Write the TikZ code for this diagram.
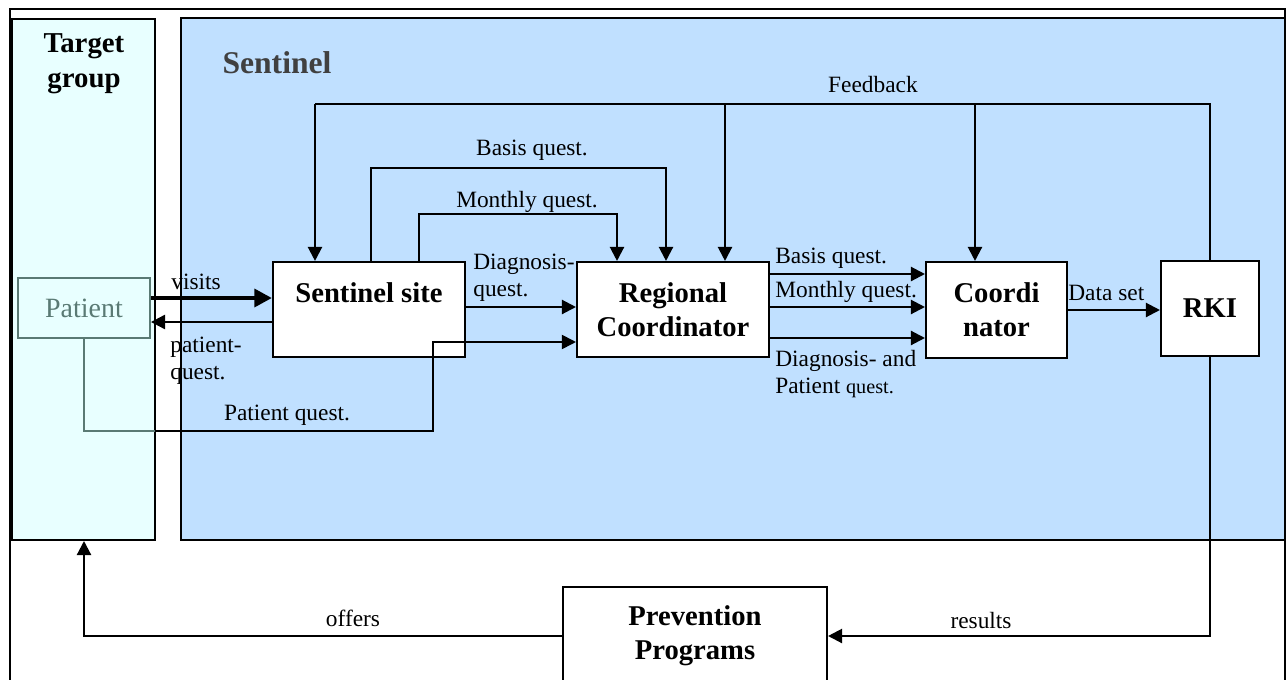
\documentclass[tikz,border=0pt]{standalone}
\usepackage{fontspec}
\setmainfont{Liberation Serif}
\usetikzlibrary{arrows.meta,positioning,calc}
\definecolor{skyfill}{RGB}{192,224,255}
\definecolor{cyanfill}{RGB}{232,255,255}
\definecolor{patgray}{RGB}{90,122,116}
\newcommand{\lblsize}{\fontsize{13.3}{15.5}\selectfont}
\newcommand{\boxsize}{\fontsize{16.3}{19.5}\selectfont\bfseries}

\tikzset{
  box/.style={draw,line width=1.2pt,fill=white,inner sep=0pt,font=\boxsize,align=center},
  area/.style={draw,line width=1.2pt,inner sep=0pt},
  lbl/.style={font=\lblsize,inner sep=0pt},
  arr/.style={line width=1.25pt,-{Triangle[length=8pt,width=8pt]}},
  link/.style={line width=1.25pt},
}

\begin{document}
\begin{tikzpicture}[x=0.02cm,y=-0.02cm]
  \useasboundingbox (0,0) rectangle (1287,679);
  \clip (0,0) rectangle (1287,679);
  \draw[line width=1.4pt] (10,9) rectangle (1285,720);

  % the two areas
  \node[area,fill=cyanfill,minimum width=2.86cm,minimum height=10.42cm] (tg) at (83.5,279.5) {};
  \node[area,fill=skyfill,minimum width=22.08cm,minimum height=10.44cm] (sen) at (733,279) {};
  \node[font=\fontsize{16.4}{20}\selectfont\bfseries,align=center] (tgtext) at (84,64) {Target\\group};
  \node[font=\fontsize{18}{20}\selectfont\bfseries,text=black!75] (sentext) at (277,63) {Sentinel};

  % boxes
  \node[draw=patgray,line width=1.1pt,inner sep=0pt,minimum width=2.64cm,minimum height=1.2cm,
    font=\fontsize{15.9}{18}\selectfont,text=patgray] (pat) at (84,308) {Patient};
  \node[box,minimum width=3.84cm,minimum height=1.9cm] (site) at (369,309.5) {};
  \node[font=\boxsize] at ([yshift=-0.63cm]site.north) {Sentinel site};
  \node[box,minimum width=3.84cm,minimum height=1.9cm] (rc) at (673,309.5) {Regional\\Coordinator};
  \node[box,minimum width=2.82cm,minimum height=1.92cm] (co) at (996.5,310) {Coordi\\nator};
  \node[box,minimum width=1.96cm,minimum height=1.9cm] (rki) at (1210,308.5) {RKI};
  \node[box,minimum width=5.28cm,minimum height=1.96cm] (pp) at (695,636) {Prevention\\Programs};

  % feedback
  \coordinate (fb1) at (315,104);
  \coordinate (fb2) at (725,104);
  \coordinate (fb3) at (975,104);
  \draw[link] (rki.north) |- (fb1);
  \draw[arr] (fb1) -- (fb1 |- site.north);
  \draw[arr] (fb2) -- (fb2 |- rc.north);
  \draw[arr] (fb3) -- (fb3 |- co.north);
  \node[lbl] at (873,85) {Feedback};

  % questionnaires site -> regional
  \coordinate (bq1) at (371,168);
  \coordinate (bq2) at (666,168);
  \coordinate (mq1) at (419,214);
  \coordinate (mq2) at (617,214);
  \draw[arr] (bq1 |- site.north) -- (bq1) -- (bq2) -- (bq2 |- rc.north);
  \draw[arr] (mq1 |- site.north) -- (mq1) -- (mq2) -- (mq2 |- rc.north);
  \node[lbl] at (532,150) {Basis quest.};
  \node[lbl] at (527,202) {Monthly quest.};
  \draw[arr] ([yshift=0.05cm]site.east) -- ([yshift=0.05cm]site.east -| rc.west);
  \node[lbl,anchor=west,align=left] at (473,278) {Diagnosis-\\quest.};

  % patient
  \draw[line width=2.8pt,-{Triangle[length=10pt,width=10pt]}] ([yshift=0.2cm]pat.east) -- ([yshift=0.2cm]pat.east -| site.west);
  \node[lbl] at (196,282) {visits};
  \draw[arr] ([yshift=-0.25cm]site.west) -- ([yshift=-0.25cm]site.west -| pat.east);
  \node[lbl,anchor=west,align=left] at (170,361) {patient-\\quest.};
  \coordinate (pqmid) at (155,431);
  \coordinate (pq) at (433,431);
  \coordinate (rcin) at ([yshift=-0.65cm]rc.west);
  \draw[patgray,line width=1pt] (pat.south) |- (pqmid);
  \draw[arr,line width=1pt] (pqmid) -- (pq) |- (rcin);
  \node[lbl] at (287,415) {Patient quest.};

  % regional -> coordinator -> RKI
  \foreach \dy in {0.71,0.05,-0.57}
    \draw[arr] ([yshift=\dy cm]rc.east) -- ([yshift=\dy cm]rc.east -| co.west);
  \node[lbl,anchor=west] at (775,258) {Basis quest.};
  \node[lbl,anchor=west] at (775,292) {Monthly quest.};
  \node[lbl,anchor=west,align=left] at (775,374) {Diagnosis- and\\Patient {\fontsize{11.5}{13}\selectfont quest.}};
  \draw[arr] (co.east) -- (co.east -| rki.west);
  \node[lbl,anchor=west] at (1068,293) {Data set};

  % results and offers
  \draw[arr] (rki.south) |- (pp.east);
  \node[lbl] at (981,620) {results};
  \draw[arr] (pp.west) -| (pat |- tg.south);
  \node[lbl] at (353,618) {offers};
\end{tikzpicture}
\end{document}
